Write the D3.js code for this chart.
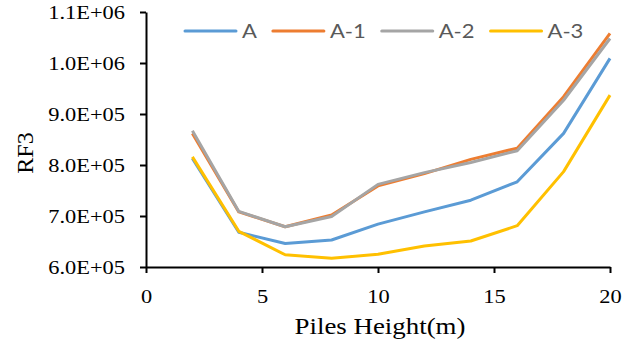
<!DOCTYPE html>
<html>
<head>
<meta charset="utf-8">
<script src="https://cdn.jsdelivr.net/npm/d3@7"></script>
<style>
  body { margin: 0; background: #fff; }
</style>
</head>
<body>
<div id="chart"></div>
<script>
/* Data */
var heights = [2, 4, 6, 8, 10, 12, 14, 16, 18, 20];
var seriesNames = ["A", "A-1", "A-2", "A-3"];
var valuesA  = [813000, 668000, 646000, 653000, 684000, 708000, 731000, 767000, 862000, 1009000];
var valuesA1 = [862000, 708000, 679000, 702000, 759000, 783000, 811000, 833000, 934000, 1058000];
var valuesA2 = [867000, 709000, 679000, 699000, 762000, 785000, 805000, 828000, 927000, 1048000];
var valuesA3 = [816000, 670000, 624000, 617000, 625000, 641000, 651000, 681000, 787000, 937000];
var xTicks = [0, 5, 10, 15, 20];
var yTicks = [600000, 700000, 800000, 900000, 1000000, 1100000];

/* Settings */
var width = 633,
    height = 342,
    plotLeft = 146, plotRight = 610, plotTop = 12, plotBottom = 267,
    colors = ["#5B9BD5", "#ED7D31", "#A5A5A5", "#FFC000"],
    stretch = 1.18; /* text in the picture is wider than its height suggests */

var allValues = [valuesA, valuesA1, valuesA2, valuesA3];

var x = d3.scaleLinear().domain([0, 20]).range([plotLeft, plotRight]);
var y = d3.scaleLinear().domain([600000, 1100000]).range([plotBottom, plotTop]);

function sci(d) {
  var e = Math.floor(Math.log10(d));
  var m = d / Math.pow(10, e);
  return m.toFixed(1) + "E+" + (e < 10 ? "0" + e : e);
}

var svg = d3.select("#chart").append("svg")
    .attr("width", width)
    .attr("height", height)
    .attr("viewBox", "0 0 " + width + " " + height);

/* Axes */
var xAxis = svg.append("g")
  .attr("transform", "translate(0," + plotBottom + ")")
  .call(d3.axisBottom(x).tickValues(xTicks).tickSize(6).tickSizeOuter(0));

var yAxis = svg.append("g")
  .attr("transform", "translate(" + plotLeft + ",0)")
  .call(d3.axisLeft(y).tickValues(yTicks).tickFormat(sci).tickSize(6).tickSizeOuter(0));

[xAxis, yAxis].forEach(function(g) {
  g.selectAll(".domain, line").attr("stroke", "#000").attr("stroke-width", 2);
});

xAxis.selectAll("text")
  .attr("font-family", "Liberation Serif")
  .attr("font-size", 19)
  .attr("fill", "#000")
  .attr("y", 0).attr("dy", 0)
  .attr("transform", "translate(0,36) scale(" + stretch + ",1)");

yAxis.selectAll("text")
  .attr("font-family", "Liberation Serif")
  .attr("font-size", 19)
  .attr("fill", "#000")
  .attr("x", 0)
  .attr("transform", "translate(-21,0) scale(" + stretch + ",1)");

/* Axis titles */
svg.append("text")
  .attr("transform", "translate(380,334) scale(1.12,1)")
  .attr("text-anchor", "middle")
  .attr("font-family", "Liberation Serif")
  .attr("font-size", 24)
  .text("Piles Height(m)");

svg.append("text")
  .attr("transform", "translate(33,153) rotate(-90)")
  .attr("text-anchor", "middle")
  .attr("font-family", "Liberation Serif")
  .attr("font-size", 24)
  .text("RF3");

/* Lines */
var line = d3.line()
  .x(function(d, i) { return x(heights[i]); })
  .y(function(d) { return y(d); });

allValues.forEach(function(vals, k) {
  svg.append("path")
    .datum(vals)
    .attr("fill", "none")
    .attr("stroke", colors[k])
    .attr("stroke-width", 3)
    .attr("stroke-linejoin", "round")
    .attr("d", line);
});

/* Legend */
var lx = 185, ly = 31;
seriesNames.forEach(function(name, k) {
  svg.append("line")
    .attr("x1", lx).attr("x2", lx + 51)
    .attr("y1", ly).attr("y2", ly)
    .attr("stroke", colors[k])
    .attr("stroke-width", 3)
    .attr("stroke-linecap", "round");
  var t = svg.append("text")
    .attr("transform", "translate(" + (lx + 57) + "," + (ly + 7) + ") scale(1.1,1)")
    .attr("font-family", "Lato")
    .attr("font-size", 20)
    .attr("fill", "#595959")
    .text(name);
  lx += 57 + t.node().getComputedTextLength() * 1.1 + 16;
});
</script>
</body>
</html>
